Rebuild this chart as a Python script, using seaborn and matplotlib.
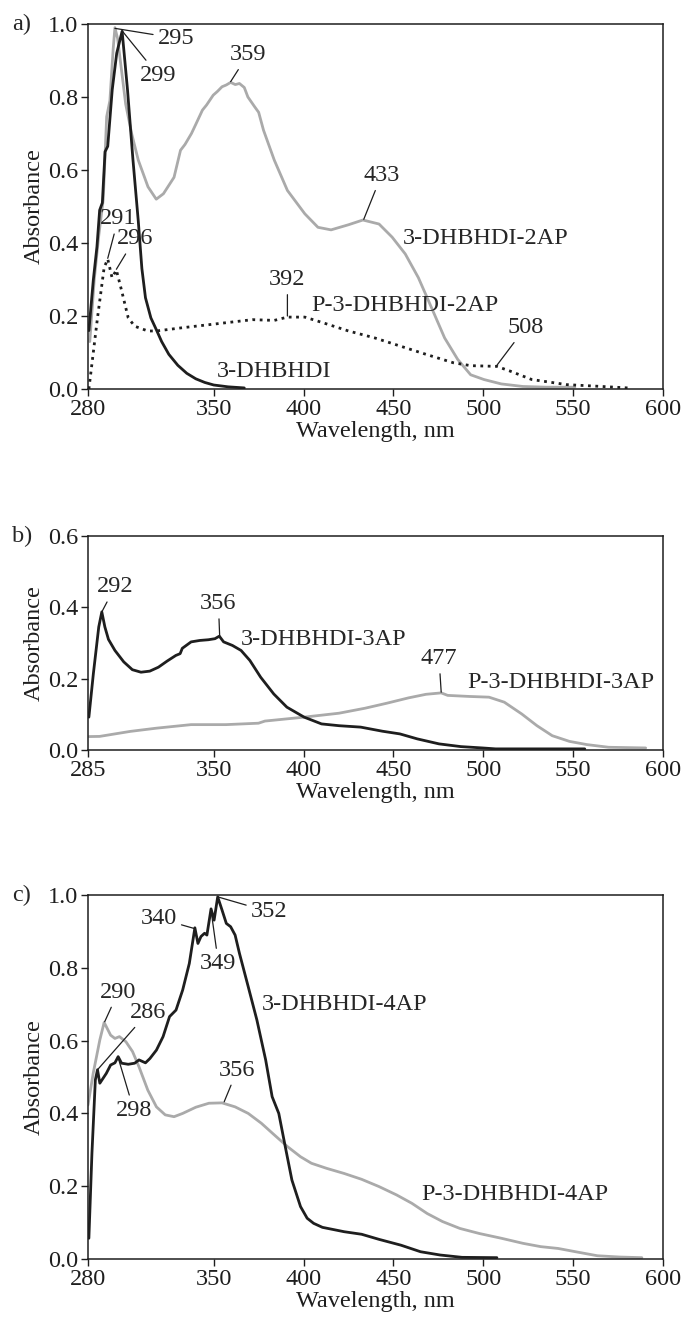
import matplotlib
matplotlib.use("Agg")
import matplotlib.pyplot as plt
import seaborn as sns
import pandas as pd

# ---- panel a data ----
a_dhbhdi_wl = [280.5, 283, 285, 286.5, 288, 289.5, 291, 293.5, 296, 299, 302, 305, 308,
               310, 312, 315, 318, 321, 325, 330, 335, 340, 345, 350, 358, 367]
a_dhbhdi_abs = [0.16, 0.30, 0.39, 0.49, 0.51, 0.65, 0.665, 0.82, 0.92, 0.98, 0.82, 0.63, 0.46,
                0.33, 0.25, 0.195, 0.163, 0.13, 0.095, 0.065, 0.043, 0.028, 0.018, 0.011, 0.006, 0.003]

a_2ap_wl = [281, 283.5, 286, 288.5, 290.4, 292.2, 294, 295, 296.5, 298, 301, 304.3, 308, 313.4, 318,
            322, 327.9, 331.5, 334, 337.6, 340, 343.7, 346, 349.7, 352, 354.6, 357, 359.4, 362,
            364.3, 367, 369, 372.8, 375, 377.7, 383.7, 391, 400.7, 408, 415.3, 425, 433, 442,
            449.3, 456.6, 463.9, 471.2, 478.5, 485.8, 493, 500.4, 510, 522, 535, 551]
a_2ap_abs = [0.13, 0.30, 0.42, 0.52, 0.746, 0.79, 0.93, 0.99, 0.96, 0.90, 0.78, 0.70, 0.627, 0.554, 0.52,
             0.535, 0.58, 0.654, 0.67, 0.70, 0.725, 0.764, 0.778, 0.805, 0.815, 0.828, 0.833, 0.84, 0.834,
             0.837, 0.826, 0.80, 0.773, 0.758, 0.709, 0.627, 0.544, 0.48, 0.443, 0.436, 0.45, 0.463, 0.452,
             0.416, 0.37, 0.305, 0.223, 0.14, 0.081, 0.039, 0.026, 0.014, 0.007, 0.005, 0.005]

a_p2ap_wl = [280.5, 285.3, 289, 291, 293.4, 295.8, 298.7, 302.4, 306, 313.3, 318.1, 332.7, 352.2,
             371.6, 383.7, 391, 400.7, 410.5, 425, 439.6, 454.2, 468.8, 483.3, 493, 507.6, 515,
             527, 546.5, 566, 580.5]
a_p2ap_abs = [0.0, 0.195, 0.333, 0.356, 0.305, 0.326, 0.27, 0.195, 0.172, 0.159, 0.159, 0.168, 0.179,
              0.19, 0.188, 0.197, 0.197, 0.182, 0.159, 0.14, 0.117, 0.094, 0.072, 0.064, 0.062, 0.049,
              0.026, 0.012, 0.007, 0.003]

# ---- panel b data ----
b_3ap_wl = [280.5, 283, 286, 287.7, 289.4, 291.4, 295, 299.9, 304.7, 309.5, 314.4, 319.2, 324,
            328.9, 331.3, 332.5, 337.4, 342.2, 347, 350.7, 353.1, 355.5, 360.4, 365.2, 370.1,
            376.1, 383.4, 390.7, 400.3, 410, 419.7, 431.8, 443.9, 453.6, 463.3, 475.4, 487.5,
            499.6, 506.9, 556.5]
b_3ap_abs = [0.092, 0.214, 0.345, 0.387, 0.345, 0.31, 0.279, 0.247, 0.225, 0.218, 0.221, 0.232, 0.249,
             0.265, 0.27, 0.285, 0.303, 0.307, 0.309, 0.312, 0.319, 0.303, 0.293, 0.279, 0.251,
             0.204, 0.157, 0.12, 0.092, 0.073, 0.068, 0.064, 0.0525, 0.045, 0.031, 0.017, 0.0094,
             0.0056, 0.003, 0.003]

b_p3ap_wl = [280.5, 286.5, 303.5, 318, 337.4, 356.8, 374.9, 378.5, 400.3, 419.7, 434.2, 446.3,
             458.4, 468.1, 476.6, 480.2, 492.3, 503.2, 511.7, 521.4, 529.9, 538.4, 548, 557.7,
             569.8, 590.4]
b_p3ap_abs = [0.0375, 0.038, 0.052, 0.061, 0.071, 0.071, 0.075, 0.081, 0.092, 0.103, 0.117, 0.131,
              0.146, 0.156, 0.16, 0.153, 0.15, 0.148, 0.134, 0.101, 0.068, 0.04, 0.024, 0.015,
              0.0075, 0.0056]

# ---- panel c data ----
c_4ap_wl = [280.5, 282.2, 284.1, 285.3, 286.6, 287.8, 290.2, 292.6, 295, 296.8, 298.7, 302.4, 306,
            308.4, 312, 314.5, 318.1, 321.8, 325.4, 329, 332.7, 336.4, 339.5, 341.2, 342.9, 344.9,
            346.2, 348.5, 350.2, 352.2, 354.6, 357, 359.4, 361.9, 364.3, 369.2, 374, 378.9, 382.5,
            386.2, 389.8, 393.5, 398.3, 402, 405.6, 410.5, 422.6, 432.3, 442, 454.2, 465.1, 476,
            488.2, 507.6]
c_4ap_abs = [0.057, 0.29, 0.492, 0.52, 0.483, 0.492, 0.51, 0.533, 0.539, 0.556, 0.538, 0.535, 0.538,
             0.547, 0.539, 0.551, 0.574, 0.611, 0.666, 0.684, 0.739, 0.812, 0.91, 0.867, 0.886, 0.895,
             0.89, 0.962, 0.931, 0.995, 0.959, 0.922, 0.913, 0.89, 0.84, 0.748, 0.657, 0.547, 0.446,
             0.40, 0.309, 0.217, 0.144, 0.112, 0.098, 0.087, 0.075, 0.068, 0.054, 0.038, 0.02, 0.011,
             0.0046, 0.0037]

c_p4ap_wl = [280, 282.9, 286.6, 289, 292.6, 295, 297.5, 301.1, 304.8, 308.4, 313.3, 318.1, 323,
             327.9, 332.7, 340, 347.3, 354.6, 361.9, 369.2, 376.5, 383.7, 391, 398.3, 404.4, 412.9,
             422.6, 432.3, 442, 451.8, 460.3, 468.8, 477.3, 487, 497.9, 510.1, 522.2, 532, 541.7,
             551.4, 563.5, 575.7, 588.3]
c_p4ap_abs = [0.423, 0.51, 0.602, 0.65, 0.615, 0.606, 0.611, 0.597, 0.57, 0.528, 0.464, 0.418, 0.396,
              0.391, 0.40, 0.417, 0.428, 0.429, 0.418, 0.40, 0.373, 0.341, 0.309, 0.281, 0.263, 0.249,
              0.235, 0.219, 0.199, 0.176, 0.153, 0.125, 0.103, 0.084, 0.07, 0.057, 0.043, 0.034, 0.029,
              0.02, 0.009, 0.0055, 0.0037]

x_ticks = [280, 350, 400, 450, 500, 550, 600]
x_labels_ac = ["280", "350", "400", "450", "500", "550", "600"]
x_labels_b = ["285", "350", "400", "450", "500", "550", "600"]

BLACK = "#1e1e1e"
GRAY = "#aaaaaa"
FS = 17.5

sns.set_theme(style="white")
plt.rcParams["font.family"] = ["Liberation Serif", "DejaVu Serif"]


def draw(ax, wl, ab, color, ls="-"):
    df = pd.DataFrame({"wl": wl, "abs": ab})
    sns.lineplot(data=df, x="wl", y="abs", color=color, linestyle=ls, lw=2.0,
                 sort=False, estimator=None, ax=ax)


def note(ax, text, xy, xytext, line=True):
    if line:
        ax.annotate(text, xy=xy, xytext=xytext, ha="center", va="center", fontsize=FS,
                    arrowprops=dict(arrowstyle="-", color=BLACK, lw=0.9, shrinkA=1, shrinkB=0))
    else:
        ax.text(xytext[0], xytext[1], text, ha="center", va="center", fontsize=FS)


def style(ax, ymax, labels, tag):
    ax.set_xlim(280, 600)
    ax.set_ylim(0, ymax)
    ax.set_xticks(x_ticks)
    ax.set_xticklabels(labels)
    ax.set_yticks([round(v * 0.2, 1) for v in range(int(round(ymax / 0.2)) + 1)])
    ax.yaxis.set_major_formatter(matplotlib.ticker.FormatStrFormatter("%.1f"))
    ax.tick_params(axis="both", direction="out", length=5, width=1, pad=2,
                   labelsize=FS, colors=BLACK, left=True, bottom=True, top=False, right=False)
    for s in ax.spines.values():
        s.set_color(BLACK)
        s.set_linewidth(1.1)
    ax.set_xlabel("Wavelength, nm", fontsize=FS, labelpad=1, color=BLACK)
    ax.set_ylabel("Absorbance", fontsize=FS, labelpad=2, color=BLACK)
    ax.text(-0.115, 1.0, tag, transform=ax.transAxes, ha="center", va="center", fontsize=FS)


fig = plt.figure(figsize=(6.82, 13.25), dpi=100)
ax_a = fig.add_axes([0.129, 0.7064, 0.843, 0.2755])
ax_b = fig.add_axes([0.129, 0.434, 0.843, 0.1615])
ax_c = fig.add_axes([0.129, 0.0498, 0.843, 0.2747])

# panel a
draw(ax_a, a_2ap_wl, a_2ap_abs, GRAY)
draw(ax_a, a_p2ap_wl, a_p2ap_abs, BLACK, ":")
draw(ax_a, a_dhbhdi_wl, a_dhbhdi_abs, BLACK)
style(ax_a, 1.0, x_labels_ac, "a)")
note(ax_a, "295", (295, 0.988), (329, 0.961))
note(ax_a, "299", (299.2, 0.98), (319, 0.86))
note(ax_a, "359", (359.4, 0.842), (369, 0.916))
note(ax_a, "433", (433.5, 0.465), (443.3, 0.585))
note(ax_a, "291", (291, 0.358), (296.8, 0.466))
note(ax_a, "296", (295.8, 0.328), (306, 0.411))
note(ax_a, "392", (391, 0.20), (391, 0.30))
note(ax_a, "508", (507.6, 0.065), (523.4, 0.168))
note(ax_a, "3-DHBHDI-2AP", None, (501.6, 0.411), line=False)
note(ax_a, "P-3-DHBHDI-2AP", None, (456.6, 0.228), line=False)
note(ax_a, "3-DHBHDI", None, (383.7, 0.049), line=False)

# panel b
draw(ax_b, b_p3ap_wl, b_p3ap_abs, GRAY)
draw(ax_b, b_3ap_wl, b_3ap_abs, BLACK)
style(ax_b, 0.6, x_labels_b, "b)")
note(ax_b, "292", (287.7, 0.387), (295, 0.457))
note(ax_b, "356", (353.3, 0.319), (352.6, 0.41))
note(ax_b, "477", (476.6, 0.162), (475.4, 0.256))
note(ax_b, "3-DHBHDI-3AP", None, (411.2, 0.309), line=False)
note(ax_b, "P-3-DHBHDI-3AP", None, (543.2, 0.188), line=False)

# panel c
draw(ax_c, c_p4ap_wl, c_p4ap_abs, GRAY)
draw(ax_c, c_4ap_wl, c_4ap_abs, BLACK)
style(ax_c, 1.0, x_labels_ac, "c)")
note(ax_c, "340", (339.2, 0.908), (319.4, 0.936))
note(ax_c, "352", (352.2, 0.995), (380.8, 0.954))
note(ax_c, "349", (348.5, 0.958), (352.6, 0.812))
note(ax_c, "290", (289.3, 0.652), (296.8, 0.733))
note(ax_c, "286", (285.3, 0.52), (313.3, 0.677))
note(ax_c, "298", (296.8, 0.553), (305.5, 0.409))
note(ax_c, "356", (355.8, 0.432), (363.1, 0.519))
note(ax_c, "3-DHBHDI-4AP", None, (422.6, 0.70), line=False)
note(ax_c, "P-3-DHBHDI-4AP", None, (517.4, 0.176), line=False)

fig.savefig("out.png", dpi=100, facecolor="white")
